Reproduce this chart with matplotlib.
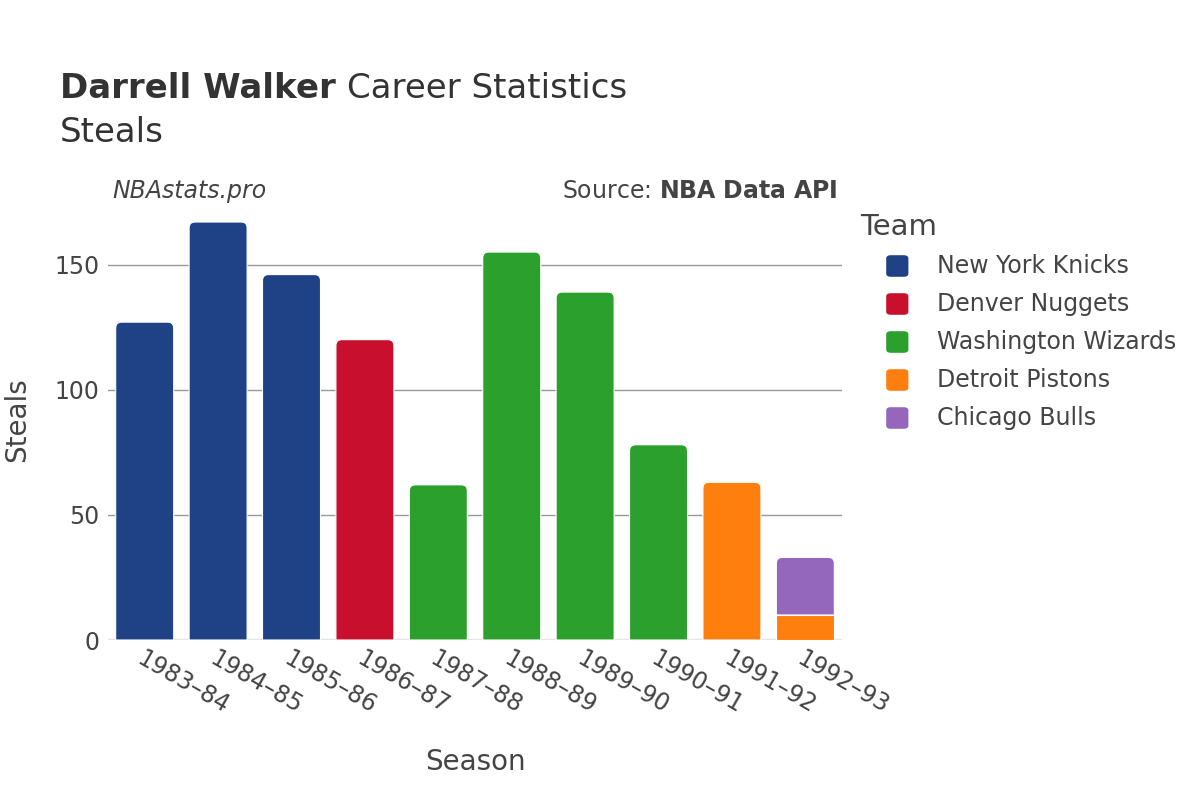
import matplotlib
matplotlib.use("Agg")
import matplotlib.pyplot as plt
from matplotlib.path import Path
from matplotlib.patches import PathPatch, FancyBboxPatch

''' DATA '''
seasons = ["1983–84", "1984–85", "1985–86", "1986–87", "1987–88",
           "1988–89", "1989–90", "1990–91", "1991–92", "1992–93"]
teams = ["New York Knicks", "Denver Nuggets", "Washington Wizards",
         "Detroit Pistons", "Chicago Bulls"]
team_colors = ["#1f4287", "#c8102e", "#2ca02c", "#ff7f0e", "#9467bd"]

# steals per season, one list per team (0 = did not play for that team)
knicks  = [127, 167, 146, 0, 0, 0, 0, 0, 0, 0]
nuggets = [0, 0, 0, 120, 0, 0, 0, 0, 0, 0]
wizards = [0, 0, 0, 0, 62, 155, 139, 78, 0, 0]
pistons = [0, 0, 0, 0, 0, 0, 0, 0, 63, 10]
bulls   = [0, 0, 0, 0, 0, 0, 0, 0, 0, 23]
series = [knicks, nuggets, wizards, pistons, bulls]

TEXT = "#444444"
ymax = 175.8
FS = 17

fig = plt.figure(figsize=(12, 8), dpi=100)
ax = fig.add_axes([0.09, 0.2, 0.6117, 0.55])
ax.set_xlim(-0.5, len(seasons) - 0.5)
ax.set_ylim(0, ymax)

# pixel -> data scale for rounded corners
px_x = (len(seasons)) / 734.0
px_y = ymax / 440.0
r = 6


def bar_path(x, bottom, height, width, rounded):
    x0, x1 = x - width / 2, x + width / 2
    y0, y1 = bottom, bottom + height
    rx, ry = r * px_x, min(r * px_y, height / 2)
    if not rounded:
        verts = [(x0, y0), (x0, y1), (x1, y1), (x1, y0), (x0, y0)]
        codes = [Path.MOVETO] + [Path.LINETO] * 3 + [Path.CLOSEPOLY]
    else:
        verts = [(x0, y0), (x0, y1 - ry), (x0, y1), (x0 + rx, y1),
                 (x1 - rx, y1), (x1, y1), (x1, y1 - ry), (x1, y0), (x0, y0)]
        codes = [Path.MOVETO, Path.LINETO, Path.CURVE3, Path.CURVE3,
                 Path.LINETO, Path.CURVE3, Path.CURVE3, Path.LINETO, Path.CLOSEPOLY]
    return Path(verts, codes)


width = 0.79
for i in range(len(seasons)):
    bottom = 0
    top_team = max(t for t in range(len(series)) if series[t][i] > 0)
    for t, vals in enumerate(series):
        v = vals[i]
        if v <= 0:
            continue
        p = bar_path(i, bottom, v, width, t == top_team)
        ax.add_patch(PathPatch(p, facecolor=team_colors[t], edgecolor="white",
                               linewidth=0.8, zorder=3))
        bottom += v

# grid and axes
ax.set_yticks([0, 50, 100, 150])
ax.grid(axis="y", color="#999999", linewidth=1, zorder=0)
ax.axhline(0, color="#e5e5e5", linewidth=2.5, zorder=2)
for s in ax.spines.values():
    s.set_visible(False)
ax.tick_params(axis="y", length=0, pad=6, labelsize=FS, labelcolor=TEXT)
ax.tick_params(axis="x", length=0, pad=5, labelsize=FS, labelcolor=TEXT)
ax.set_xticks(range(len(seasons)))
ax.set_xticklabels(seasons, rotation=-30, ha="left", va="top", rotation_mode="anchor")
ax.set_xlabel("Season", fontsize=20, color=TEXT)
ax.xaxis.set_label_coords(0.5, -0.245)
ax.set_ylabel("Steals", fontsize=20, color=TEXT)
ax.yaxis.set_label_coords(-0.105, 0.5)

# titles
t1 = fig.text(0.05, 0.889, "Darrell Walker", fontsize=24.5, fontweight="bold",
              color="#333333", va="center")
fig.canvas.draw()
bb = t1.get_window_extent()
fig.text(bb.x1 / 1200.0 + 0.009, 0.889, "Career Statistics", fontsize=24.5,
         color="#333333", va="center")
fig.text(0.05, 0.835, "Steals", fontsize=24.5, color="#333333", va="center")
fig.text(0.094, 0.761, "NBAstats.pro", fontsize=FS, style="italic",
         color=TEXT, va="center")
fig.text(0.698, 0.761, "Source: $\\bf{NBA\\ Data\\ API}$", fontsize=FS,
         color=TEXT, va="center", ha="right")

# legend
fig.text(0.717, 0.716, "Team", fontsize=21, color=TEXT, va="center")
for k, (name, col) in enumerate(zip(teams, team_colors)):
    yc = 1 - (266 + 38 * k) / 800.0
    fig.patches.append(FancyBboxPatch((0.7385, yc - 0.0135), 0.0185, 0.027,
                                      boxstyle="round,pad=0,rounding_size=0.004",
                                      transform=fig.transFigure, facecolor=col,
                                      edgecolor="none", figure=fig))
    fig.text(0.781, yc, name, fontsize=FS, color=TEXT, va="center")

plt.savefig("out.png", dpi=100)
